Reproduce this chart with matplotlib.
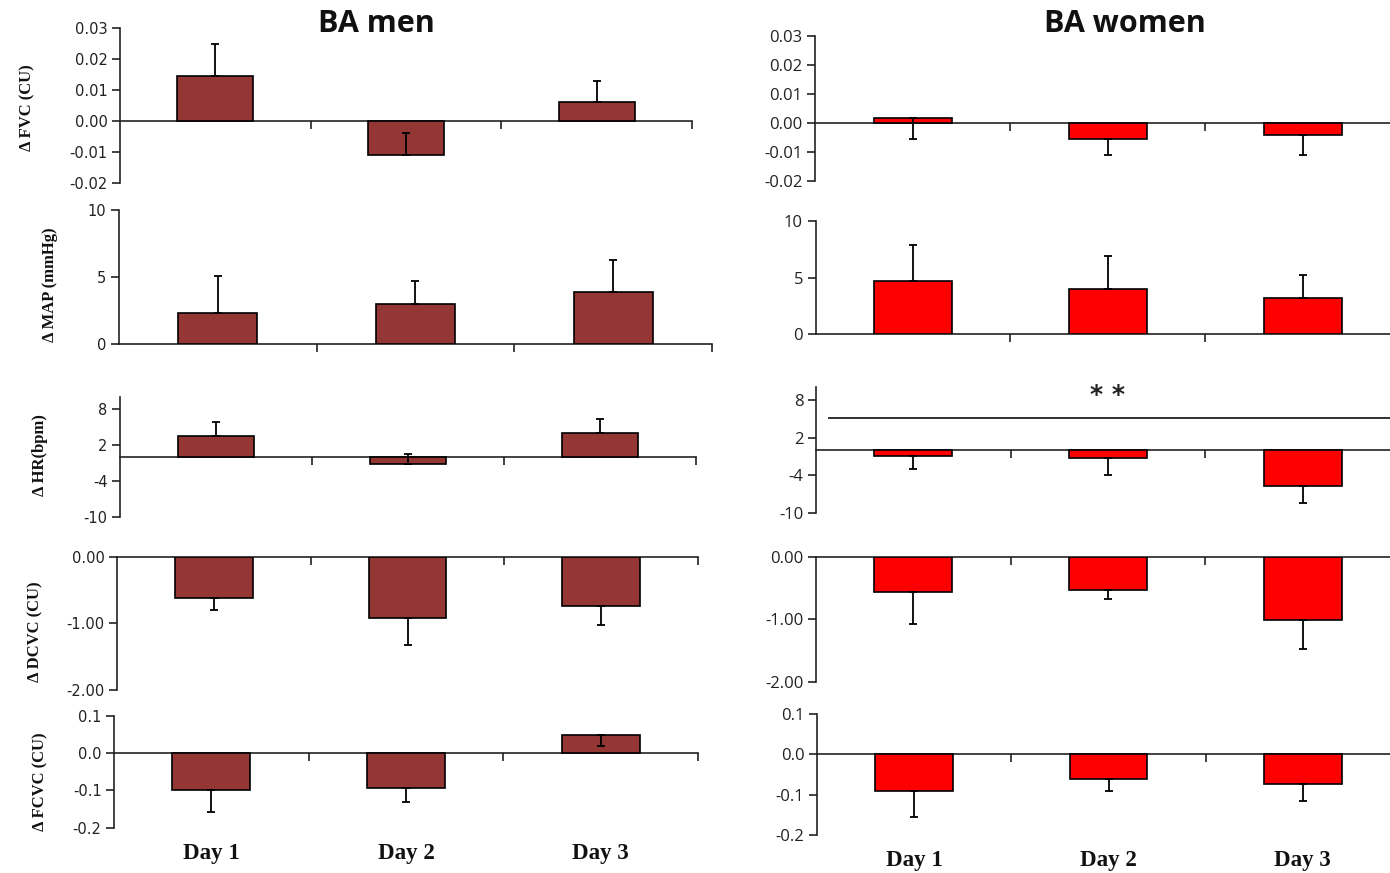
import matplotlib
matplotlib.use("Agg")
import matplotlib.pyplot as plt
import numpy as np

W, H = 1390, 873

days = ["Day 1", "Day 2", "Day 3"]

# BA men: mean change and SE per day
men_fvc = [0.0145, -0.011, 0.006]
men_fvc_se = [0.0105, 0.007, 0.007]
men_map = [2.35, 3.0, 3.9]
men_map_se = [2.7, 1.7, 2.4]
men_hr = [3.4, -1.2, 4.0]
men_hr_se = [2.3, 1.6, 2.3]
men_dcvc = [-0.62, -0.92, -0.74]
men_dcvc_se = [0.18, 0.40, 0.29]
men_fcvc = [-0.100, -0.093, 0.047]
men_fcvc_se = [0.058, 0.037, 0.027]

# BA women: mean change and SE per day
women_fvc = [0.0016, -0.0056, -0.0041]
women_fvc_se = [0.0070, 0.0056, 0.0071]
women_map = [4.7, 3.95, 3.2]
women_map_se = [3.2, 2.95, 2.05]
women_hr = [-0.85, -1.25, -5.6]
women_hr_se = [2.1, 2.75, 2.7]
women_dcvc = [-0.57, -0.53, -1.02]
women_dcvc_se = [0.50, 0.15, 0.46]
women_fcvc = [-0.092, -0.061, -0.074]
women_fcvc_se = [0.063, 0.031, 0.041]

# y tick values and their printed labels
fvc_ticks = [0.03, 0.02, 0.01, 0.0, -0.01, -0.02]
fvc_labels = ["0.03", "0.02", "0.01", "0.00", "-0.01", "-0.02"]
map_ticks = [10, 5, 0]
map_labels = ["10", "5", "0"]
hr_ticks = [8, 2, -4, -10]
hr_labels = ["8", "2", "-4", "-10"]
dcvc_ticks = [0.0, -1.0, -2.0]
dcvc_labels = ["0.00", "-1.00", "-2.00"]
fcvc_ticks = [0.1, 0.0, -0.1, -0.2]
fcvc_labels = ["0.1", "0.0", "-0.1", "-0.2"]

hr_sig_level = 5.2
hr_sig_mark_y = 8.7

MEN_COLOR = "#943634"
WOMEN_COLOR = "#FF0000"

fig = plt.figure(figsize=(W / 100, H / 100), dpi=100)


def add_panel(x0, x1, ytop, ybot, ylim):
    ax = fig.add_axes([x0 / W, (H - ybot) / H, (x1 - x0) / W, (ybot - ytop) / H])
    ax.set_ylim(*ylim)
    ax.set_xlim(0.5, 3.5)
    return ax


def draw(ax, vals, se, color, direction, ticks, labels, font, fsize):
    x = np.arange(1, 4)
    ax.bar(x, vals, width=0.4, color=color, edgecolor="black", linewidth=1.2, zorder=3)
    se = np.asarray(se)
    zeros = np.zeros_like(se)
    if direction == "up":
        yerr = [zeros, se]
    else:
        yerr = [se, zeros]
    ax.errorbar(x, vals, yerr=yerr, fmt="none", ecolor="black", elinewidth=1.3,
                capsize=3, capthick=1.3, zorder=4)
    for s in ("top", "right"):
        ax.spines[s].set_visible(False)
    ax.spines["bottom"].set_position(("data", 0))
    ax.spines["left"].set_color("#222222")
    ax.spines["bottom"].set_color("#222222")
    ax.spines["left"].set_linewidth(1.2)
    ax.spines["bottom"].set_linewidth(1.2)
    ax.set_xticks([1.5, 2.5, 3.5])
    ax.set_xticklabels([])
    ax.tick_params(axis="x", direction="out", length=6, width=1.2, color="#222222")
    ax.set_yticks(ticks)
    ax.set_yticklabels(labels, fontfamily=font, fontsize=fsize, color="#222222")
    ax.tick_params(axis="y", direction="out", length=6, width=1.2, color="#222222", pad=3)
    ax.patch.set_visible(False)


# left column: BA men
lf, ls = "DejaVu Sans", 10.5
ax = add_panel(120, 692, 28, 183, (-0.02, 0.03))
draw(ax, men_fvc, men_fvc_se, MEN_COLOR, "up", fvc_ticks, fvc_labels, lf, ls)
ax = add_panel(119, 712, 210, 344, (0, 10))
draw(ax, men_map, men_map_se, MEN_COLOR, "up", map_ticks, map_labels, lf, ls)
ax = add_panel(120, 696, 396.7, 516.7, (-10, 10))
draw(ax, men_hr, men_hr_se, MEN_COLOR, "up", hr_ticks, hr_labels, lf, ls)
ax = add_panel(117, 698, 556.7, 690, (-2, 0))
draw(ax, men_dcvc, men_dcvc_se, MEN_COLOR, "down", dcvc_ticks, dcvc_labels, lf, ls)
ax_ml = add_panel(114, 698, 715.7, 827.7, (-0.2, 0.1))
draw(ax_ml, men_fcvc, men_fcvc_se, MEN_COLOR, "down", fcvc_ticks, fcvc_labels, lf, ls)

# right column: BA women
rf, rs = "Open Sans", 12
ax = add_panel(815, 1400, 36, 181, (-0.02, 0.03))
draw(ax, women_fvc, women_fvc_se, WOMEN_COLOR, "down", fvc_ticks, fvc_labels, rf, rs)
ax = add_panel(815.5, 1400, 220.7, 334.3, (0, 10))
draw(ax, women_map, women_map_se, WOMEN_COLOR, "up", map_ticks, map_labels, rf, rs)
ax_hr = add_panel(816, 1400, 387.3, 513.3, (-10, 10))
draw(ax_hr, women_hr, women_hr_se, WOMEN_COLOR, "down", hr_ticks, hr_labels, rf, rs)
ax_hr.hlines(hr_sig_level, 0.56, 3.5, color="#222222", linewidth=1.3, zorder=2)
ax_hr.text(2.0, hr_sig_mark_y, "* *", ha="center", va="center", fontsize=18,
           fontfamily="DejaVu Sans", fontweight="bold", color="#222222")
ax = add_panel(816, 1400, 556.7, 681.7, (-2, 0))
draw(ax, women_dcvc, women_dcvc_se, WOMEN_COLOR, "down", dcvc_ticks, dcvc_labels, rf, rs)
ax_wl = add_panel(817, 1400, 714, 835, (-0.2, 0.1))
draw(ax_wl, women_fcvc, women_fcvc_se, WOMEN_COLOR, "down", fcvc_ticks, fcvc_labels, rf, rs)

# day labels under the bottom panels
for a, yoff in ((ax_ml, -0.226), (ax_wl, -0.207)):
    for i, d in enumerate(days):
        a.text(i + 1, yoff, d, transform=a.get_xaxis_transform(), ha="center",
               va="center", fontfamily="Liberation Serif", fontweight="bold",
               fontsize=16.5, color="#111111")

# column titles
fig.text(376 / W, 1 - 24 / H, "BA men", ha="center", va="center",
         fontfamily="Open Sans", fontweight="bold", fontsize=22, color="#111111")
fig.text(1125 / W, 1 - 24 / H, "BA women", ha="center", va="center",
         fontfamily="Open Sans", fontweight="bold", fontsize=22, color="#111111")

# y axis labels
ylabels = [
    ("Δ FVC (CU)", 27, 108),
    ("Δ MAP (mmHg)", 50, 285),
    ("Δ HR(bpm)", 40, 455),
    ("Δ DCVC (CU)", 35, 632),
    ("Δ FCVC (CU)", 40, 782),
]
for txt, px, py in ylabels:
    fig.text(px / W, 1 - py / H, txt, rotation=90, ha="center", va="center",
             fontfamily="Liberation Serif", fontweight="bold", fontsize=12,
             color="#111111")

fig.savefig("out.png", dpi=100, facecolor="white")
